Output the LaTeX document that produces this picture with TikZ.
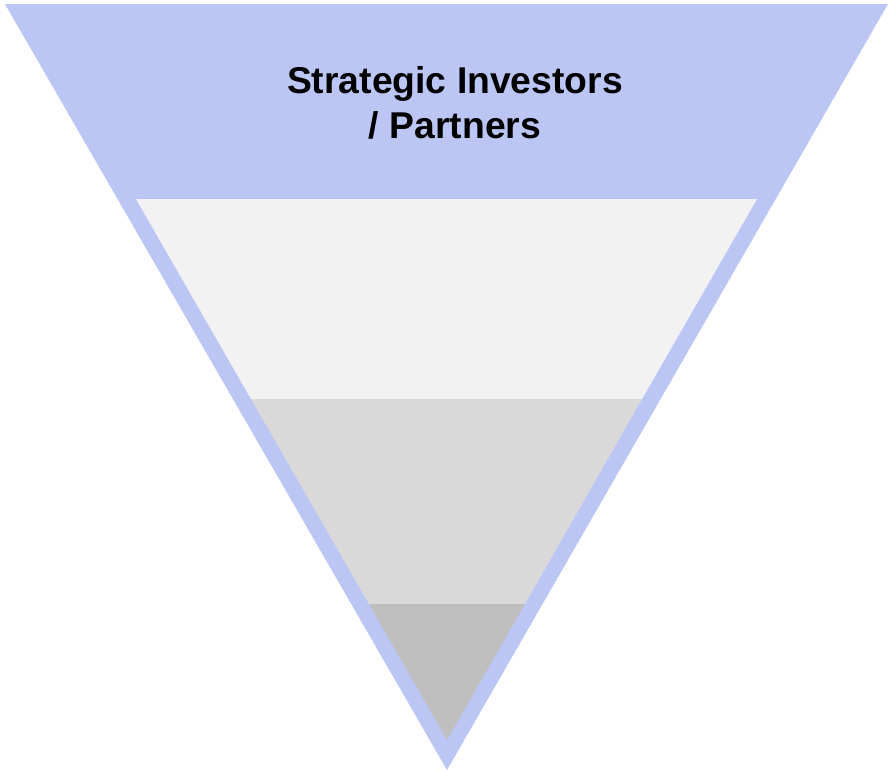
\documentclass[tikz,border=0pt]{standalone}
\usepackage{fontspec}
\setmainfont{Liberation Sans}
\definecolor{funnelblue}{RGB}{188,198,245}
\definecolor{bandlight}{RGB}{242,242,242}
\definecolor{bandmid}{RGB}{217,217,217}
\definecolor{banddark}{RGB}{191,191,191}
\tikzset{
  band/.style={draw=none},
  title/.style={font=\bfseries\fontsize{37.3}{45}\selectfont, text=black, anchor=base, inner sep=0pt}
}
\begin{document}
\begin{tikzpicture}[x=1pt,y=-1pt]
\useasboundingbox (0,0) rectangle (889,771);
% outer inverted triangle
\fill[funnelblue] (5,4) -- (888,4) -- (447,770) -- cycle;
% inner bands
\fill[bandlight] (136,199) -- (757,199) -- (642,399) -- (251,399) -- cycle;
\fill[bandmid] (251,399) -- (642,399) -- (525,604) -- (369,604) -- cycle;
\fill[banddark] (369,604) -- (525,604) -- (447,740) -- cycle;
% heading
\node[title] (t1) at (455,93) {Strategic Investors};
\node[title] (t2) at (455,138) {/ Partners};
\end{tikzpicture}
\end{document}
